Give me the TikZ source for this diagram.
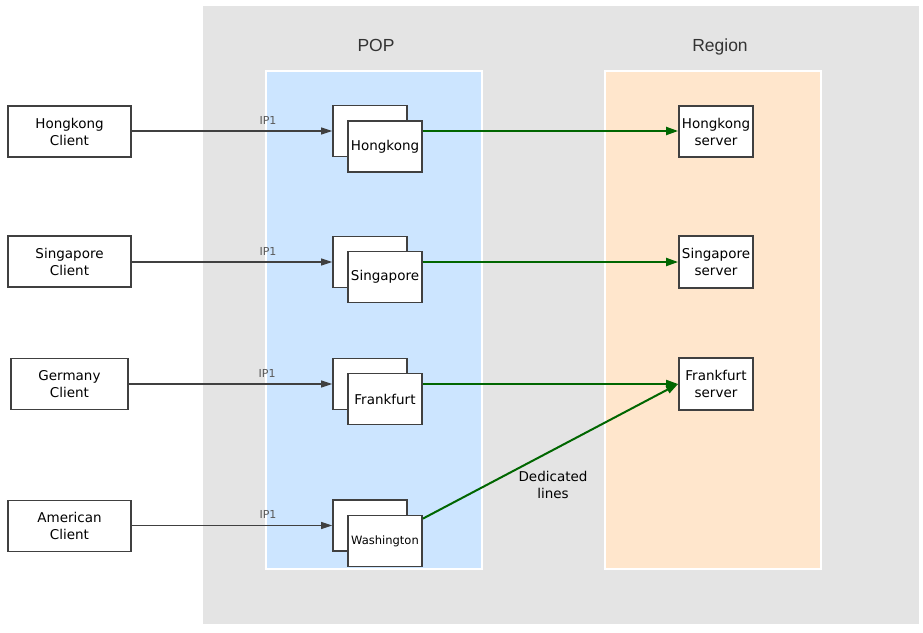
\documentclass[tikz,border=0pt]{standalone}
\usepackage{fontspec}
\setmainfont{DejaVu Sans}
\newfontfamily\titlefont{Liberation Sans}
\usepackage{xcolor}
\usetikzlibrary{positioning,arrows.meta}

\definecolor{bggray}{HTML}{E4E4E4}
\definecolor{popblue}{HTML}{CCE5FF}
\definecolor{regionpeach}{HTML}{FFE6CC}
\definecolor{lineg}{HTML}{006600}
\definecolor{edge}{HTML}{404040}

\tikzset{
  box/.style={draw=edge, line width=1.8pt, fill=white, align=center, inner sep=1pt,
    font=\fontsize{13.5}{17}\selectfont},
  client/.style={box, minimum width=123pt, minimum height=51pt},
  popbox/.style={box, minimum width=74pt, minimum height=51pt},
  server/.style={box, minimum width=74pt, minimum height=51.5pt},
  iparrow/.style={draw=edge, line width=1.1pt, -{Triangle[length=11pt,width=7pt]}},
  dedline/.style={draw=lineg, line width=2pt, -{Triangle[length=12pt,width=8pt]}},
  iplabel/.style={font=\fontsize{11}{13}\selectfont, text=black!65},
  title/.style={font=\titlefont\fontsize{17.5}{20}\selectfont, text=black!80}
}

\begin{document}
\begin{tikzpicture}[x=1pt,y=-1pt]
  \useasboundingbox (0,0) rectangle (923,632);
  % panels
  \fill[bggray] (203,6) rectangle (919,624);
  \draw[white, line width=1.2pt, fill=popblue] (266,71) rectangle (482,569);
  \draw[white, line width=1.2pt, fill=regionpeach] (605,71) rectangle (821,569);
  \node[title] (poptitle) at (376,45) {POP};
  \node[title] (regiontitle) at (720,47) {Region};

  % clients
  \node[client] (hkclient) at (69.5,131.5) {Hongkong\\Client};
  \node[client] (sgclient) at (69.5,261.5) {Singapore\\Client};
  \node[client, minimum width=117pt] (declient) at (69.5,384) {Germany\\Client};
  \node[client] (usclient) at (69.5,526) {American\\Client};

  % POP nodes
  \node[popbox] (hkback) at (370,131) {};
  \node[popbox] (hkfront) at (385,146.5) {Hongkong};
  \node[popbox] (sgback) at (370,262) {};
  \node[popbox] (sgfront) at (385,277) {Singapore};
  \node[popbox] (fkback) at (370,384) {};
  \node[popbox] (fkfront) at (385,399) {Frankfurt};
  \node[popbox] (waback) at (370,525.5) {};
  \node[popbox, font=\fontsize{11.5}{14}\selectfont] (wafront) at (385,541) {Washington};

  % servers
  \node[server] (hkserver) at (716,131.5) {Hongkong\\server};
  \node[server] (sgserver) at (716,262) {Singapore\\server};
  \node[server] (fkserver) at (716,384) {Frankfurt\\server};

  % client access
  \draw[iparrow] (hkclient.east |- hkback.west) -- node[iplabel, above=3pt, pos=0.68] {IP1} (hkback.west);
  \draw[iparrow] (sgclient.east |- sgback.west) -- node[iplabel, above=3pt, pos=0.68] {IP1} (sgback.west);
  \draw[iparrow] (declient.east |- fkback.west) -- node[iplabel, above=3pt, pos=0.68] {IP1} (fkback.west);
  \draw[iparrow] (usclient.east |- waback.west) -- node[iplabel, above=3pt, pos=0.68] {IP1} (waback.west);

  % dedicated lines
  \draw[dedline] (hkfront.east |- hkback.east) -- (hkserver.west |- hkback.east);
  \draw[dedline] (sgfront.east |- sgback.east) -- (sgserver.west |- sgback.east);
  \draw[dedline] (fkfront.east |- fkback.east) -- (fkserver.west |- fkback.east);
  \draw[dedline] ([yshift=-4pt]wafront.north east) -- (fkserver.west);
  \node[font=\fontsize{13.5}{17}\selectfont, align=center] (dedlabel) at (553,485) {Dedicated\\lines};
\end{tikzpicture}
\end{document}
